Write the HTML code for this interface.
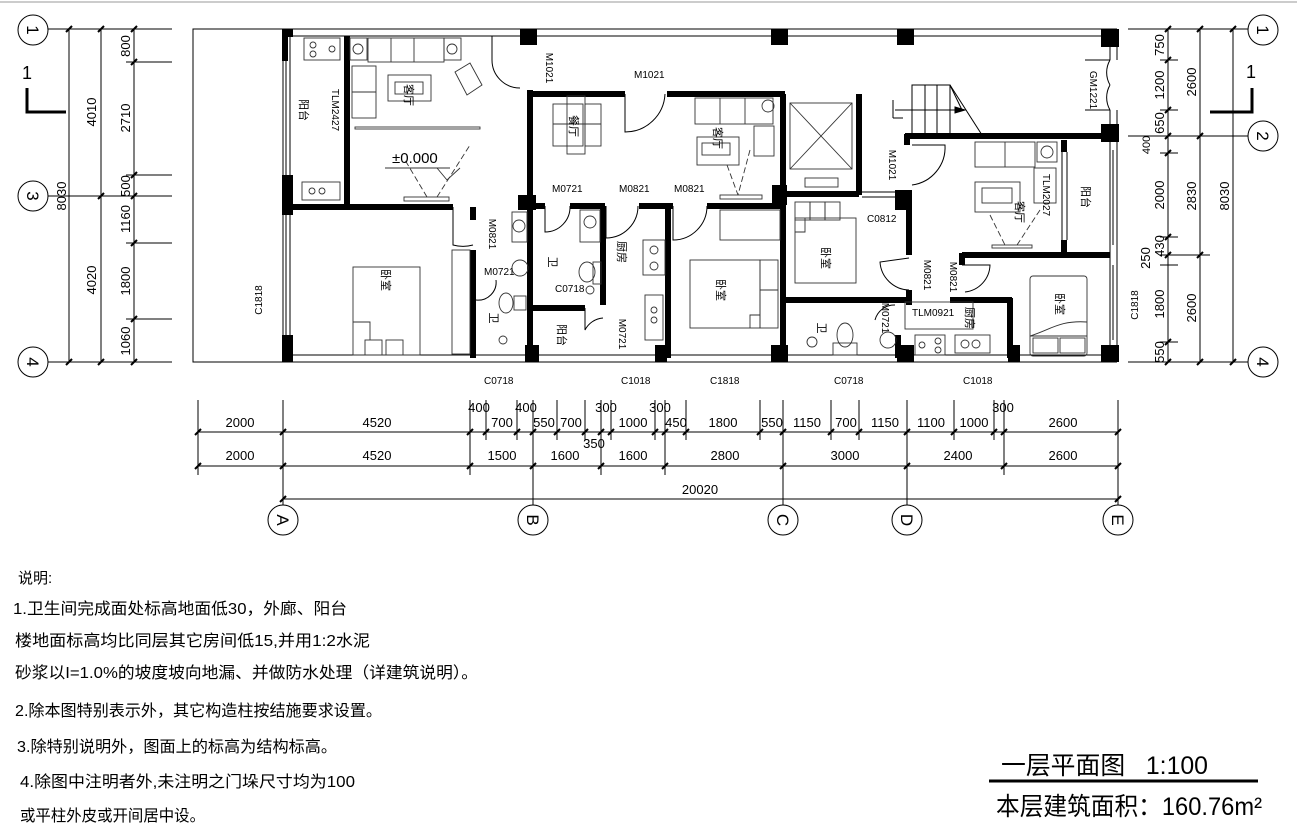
<!DOCTYPE html>
<html><head><meta charset="utf-8">
<style>
html,body{margin:0;padding:0;background:#fff;}
svg{display:block;}
text{font-family:"Liberation Sans","Noto Sans CJK SC",sans-serif;fill:#000;}
.cn{font-family:"Liberation Sans","Noto Sans CJK SC",sans-serif;}
.w{stroke:#000;stroke-width:6;fill:none;}
.t{stroke:#000;stroke-width:1;fill:none;}
.f{stroke:#333;stroke-width:0.9;fill:none;}
.d{font-size:13px;}
.s{font-size:10px;}
</style></head><body>
<svg width="1297" height="837" viewBox="0 0 1297 837" xmlns="http://www.w3.org/2000/svg">
<rect width="1297" height="837" fill="#fff"/>
<line x1="0" y1="2" x2="1297" y2="2" stroke="#ccc" stroke-width="2"/>

<!-- LEFT VERTICAL DIMENSIONS -->
<g class="t">
<line x1="69" y1="29" x2="69" y2="363"/><line x1="101" y1="29" x2="101" y2="363"/><line x1="134" y1="29" x2="134" y2="363"/>
<line x1="48" y1="29" x2="172" y2="29"/><line x1="48" y1="196" x2="172" y2="196"/><line x1="48" y1="362" x2="172" y2="362"/>
<line x1="126" y1="62" x2="172" y2="62"/><line x1="126" y1="175" x2="172" y2="175"/><line x1="126" y1="243" x2="172" y2="243"/><line x1="126" y1="319" x2="172" y2="319"/>
<circle cx="33" cy="30" r="15"/><circle cx="33" cy="196" r="15"/><circle cx="33" cy="362" r="15"/>
</g>
<g stroke="#000" stroke-width="2">
<line x1="66" y1="32" x2="72" y2="26"/><line x1="98" y1="32" x2="104" y2="26"/><line x1="131" y1="32" x2="137" y2="26"/>
<line x1="98" y1="199" x2="104" y2="193"/><line x1="131" y1="199" x2="137" y2="193"/>
<line x1="66" y1="365" x2="72" y2="359"/><line x1="98" y1="365" x2="104" y2="359"/><line x1="131" y1="365" x2="137" y2="359"/>
<line x1="131" y1="65" x2="137" y2="59"/><line x1="131" y1="178" x2="137" y2="172"/><line x1="131" y1="246" x2="137" y2="240"/><line x1="131" y1="322" x2="137" y2="316"/>
</g>
<g class="d">
<text transform="translate(33,30) rotate(90)" text-anchor="middle" dy="6" font-size="17">1</text>
<text transform="translate(33,196) rotate(90)" text-anchor="middle" dy="6" font-size="17">3</text>
<text transform="translate(33,362) rotate(90)" text-anchor="middle" dy="6" font-size="17">4</text>
<text transform="translate(96,112) rotate(-90)" text-anchor="middle">4010</text>
<text transform="translate(66,196) rotate(-90)" text-anchor="middle">8030</text>
<text transform="translate(96,280) rotate(-90)" text-anchor="middle">4020</text>
<text transform="translate(130,46) rotate(-90)" text-anchor="middle">800</text>
<text transform="translate(130,118) rotate(-90)" text-anchor="middle">2710</text>
<text transform="translate(130,186) rotate(-90)" text-anchor="middle">500</text>
<text transform="translate(130,219) rotate(-90)" text-anchor="middle">1160</text>
<text transform="translate(130,281) rotate(-90)" text-anchor="middle">1800</text>
<text transform="translate(130,341) rotate(-90)" text-anchor="middle">1060</text>
</g>
<text x="22" y="79" font-size="18">1</text>
<polyline points="27,88 27,112 66,112" stroke="#000" stroke-width="3" fill="none"/>

<!-- RIGHT VERTICAL DIMENSIONS -->
<g class="t">
<line x1="1168" y1="29" x2="1168" y2="363"/><line x1="1200" y1="29" x2="1200" y2="363"/><line x1="1233" y1="29" x2="1233" y2="363"/>
<line x1="1128" y1="29" x2="1248" y2="29"/><line x1="1128" y1="136" x2="1248" y2="136"/><line x1="1128" y1="362" x2="1248" y2="362"/>
<line x1="1160" y1="60" x2="1178" y2="60"/><line x1="1160" y1="110" x2="1178" y2="110"/><line x1="1160" y1="153" x2="1178" y2="153"/>
<line x1="1160" y1="237" x2="1178" y2="237"/><line x1="1160" y1="255" x2="1210" y2="255"/><line x1="1160" y1="265" x2="1178" y2="265"/><line x1="1160" y1="342" x2="1178" y2="342"/>
<circle cx="1263" cy="30" r="15"/><circle cx="1263" cy="136" r="15"/><circle cx="1263" cy="362" r="15"/>
</g>
<g stroke="#000" stroke-width="2">
<line x1="1165" y1="32" x2="1171" y2="26"/><line x1="1197" y1="32" x2="1203" y2="26"/><line x1="1230" y1="32" x2="1236" y2="26"/>
<line x1="1165" y1="139" x2="1171" y2="133"/><line x1="1197" y1="139" x2="1203" y2="133"/>
<line x1="1165" y1="365" x2="1171" y2="359"/><line x1="1197" y1="365" x2="1203" y2="359"/><line x1="1230" y1="365" x2="1236" y2="359"/>
<line x1="1165" y1="63" x2="1171" y2="57"/><line x1="1165" y1="113" x2="1171" y2="107"/><line x1="1165" y1="156" x2="1171" y2="150"/><line x1="1165" y1="240" x2="1171" y2="234"/><line x1="1165" y1="258" x2="1171" y2="252"/><line x1="1197" y1="258" x2="1203" y2="252"/><line x1="1165" y1="345" x2="1171" y2="339"/>
</g>
<g class="d">
<text transform="translate(1263,30) rotate(90)" text-anchor="middle" dy="6" font-size="17">1</text>
<text transform="translate(1263,136) rotate(90)" text-anchor="middle" dy="6" font-size="17">2</text>
<text transform="translate(1263,362) rotate(90)" text-anchor="middle" dy="6" font-size="17">4</text>
<text transform="translate(1164,45) rotate(-90)" text-anchor="middle">750</text>
<text transform="translate(1164,85) rotate(-90)" text-anchor="middle">1200</text>
<text transform="translate(1164,123) rotate(-90)" text-anchor="middle">650</text>
<text transform="translate(1150,145) rotate(-90)" text-anchor="middle" font-size="11">400</text>
<text transform="translate(1164,195) rotate(-90)" text-anchor="middle">2000</text>
<text transform="translate(1164,246) rotate(-90)" text-anchor="middle">430</text>
<text transform="translate(1150,258) rotate(-90)" text-anchor="middle">250</text>
<text transform="translate(1164,304) rotate(-90)" text-anchor="middle">1800</text>
<text transform="translate(1164,352) rotate(-90)" text-anchor="middle">550</text>
<text transform="translate(1196,82) rotate(-90)" text-anchor="middle">2600</text>
<text transform="translate(1196,196) rotate(-90)" text-anchor="middle">2830</text>
<text transform="translate(1196,308) rotate(-90)" text-anchor="middle">2600</text>
<text transform="translate(1229,196) rotate(-90)" text-anchor="middle">8030</text>
<text transform="translate(1138,305) rotate(-90)" text-anchor="middle" class="s">C1818</text>
</g>
<text x="1246" y="78" font-size="18">1</text>
<polyline points="1252,88 1252,112 1210,112" stroke="#000" stroke-width="3" fill="none"/>

<!-- PORCH -->
<rect x="193" y="29" width="90" height="333" class="t"/>

<!-- OUTER WALLS -->
<g class="t">
<line x1="283" y1="29" x2="1117" y2="29"/><line x1="283" y1="36" x2="1117" y2="36"/>
<line x1="283" y1="355" x2="1117" y2="355"/><line x1="283" y1="362" x2="1117" y2="362"/>
<line x1="283" y1="29" x2="283" y2="362"/><line x1="290" y1="29" x2="290" y2="362"/>
<line x1="1110" y1="29" x2="1110" y2="362"/><line x1="1117" y1="29" x2="1117" y2="362"/>
<line x1="286" y1="60" x2="286" y2="175"/><line x1="286" y1="215" x2="286" y2="340"/>
<line x1="1113" y1="150" x2="1113" y2="245"/><line x1="1113" y1="265" x2="1113" y2="340"/>
</g>
<g fill="#000">
<rect x="282" y="29" width="11" height="8"/><rect x="282" y="29" width="6" height="32"/>
<rect x="282" y="175" width="11" height="40"/><rect x="282" y="335" width="11" height="27"/><rect x="282" y="355" width="11" height="7"/>
<rect x="520" y="29" width="17" height="16"/><rect x="771" y="29" width="17" height="16"/><rect x="897" y="29" width="17" height="16"/><rect x="1101" y="29" width="18" height="18"/>
<rect x="1101" y="124" width="18" height="18"/><rect x="1101" y="345" width="18" height="17"/>
<rect x="518" y="195" width="18" height="15"/><rect x="525" y="345" width="14" height="17"/><rect x="655" y="345" width="12" height="17"/>
<rect x="771" y="345" width="17" height="17"/><rect x="895" y="190" width="17" height="20"/><rect x="897" y="345" width="17" height="17"/>
<rect x="772" y="185" width="15" height="20"/><rect x="1008" y="345" width="12" height="17"/>
</g>
<rect x="1109" y="60" width="10" height="50" fill="#fff"/>
<path d="M1110,60 A25,25 0 0 0 1110,85 M1110,110 A25,25 0 0 1 1110,85" class="t"/>
<path d="M1110,60 L1085,60 M1110,110 L1085,110" class="t"/>

<!-- INTERIOR THICK WALLS -->
<g class="w">
<line x1="347" y1="36" x2="347" y2="205"/>
<line x1="283" y1="207" x2="453" y2="207"/>
<line x1="473" y1="207" x2="473" y2="220"/><line x1="473" y1="250" x2="473" y2="358"/>
<line x1="530" y1="90" x2="530" y2="358"/>
<line x1="533" y1="94" x2="625" y2="94"/><line x1="667" y1="94" x2="785" y2="94"/>
<line x1="533" y1="206" x2="545" y2="206"/><line x1="570" y1="206" x2="605" y2="206"/><line x1="639" y1="206" x2="673" y2="206"/><line x1="707" y1="206" x2="784" y2="206"/>
<line x1="603" y1="206" x2="603" y2="305"/><line x1="668" y1="206" x2="668" y2="358"/>
<line x1="533" y1="308" x2="585" y2="308"/>
<line x1="783" y1="94" x2="783" y2="358"/>
<line x1="859" y1="94" x2="859" y2="195"/><line x1="783" y1="194" x2="859" y2="194"/>
<line x1="783" y1="300" x2="912" y2="300"/>
<line x1="909" y1="192" x2="909" y2="255"/><line x1="909" y1="290" x2="909" y2="305"/>
<line x1="905" y1="136" x2="1110" y2="136"/><line x1="907" y1="134" x2="907" y2="145"/>
<line x1="1064" y1="140" x2="1064" y2="152"/><line x1="1064" y1="240" x2="1064" y2="255"/>
<line x1="962" y1="255" x2="1110" y2="255"/><line x1="962" y1="253" x2="962" y2="265"/>
<line x1="950" y1="300" x2="1012" y2="300"/>
<line x1="1010" y1="298" x2="1010" y2="358"/>
<line x1="898" y1="335" x2="898" y2="358"/>
</g>
<g class="t">
<line x1="862" y1="192" x2="895" y2="192"/><line x1="862" y1="197" x2="895" y2="197"/>
<line x1="1062" y1="152" x2="1062" y2="240"/><line x1="1067" y1="152" x2="1067" y2="240"/>
<line x1="345" y1="50" x2="345" y2="195"/>
</g>

<!-- DOORS -->
<g class="t">
<path d="M492,36 L492,60 A28,28 0 0 0 520,88"/>
<path d="M625,94 L625,132 A40,40 0 0 0 665,94"/>
<path d="M453,207 L453,245 A38,38 0 0 0 473,245"/>
<path d="M545,206 L545,232 A25,25 0 0 0 570,206"/>
<path d="M606,206 L606,238 A32,32 0 0 0 638,206"/>
<path d="M673,206 L673,240 A34,34 0 0 0 707,206"/>
<path d="M912,145 L945,145 A38,38 0 0 1 912,185"/>
<path d="M909,258 L880,262 A30,30 0 0 0 909,290"/>
<path d="M962,265 L990,265 A28,28 0 0 1 965,292"/>
<path d="M585,308 L585,330 A22,22 0 0 1 603,318"/>
<path d="M496,280 A18,18 0 0 1 476,300"/>
<path d="M895,305 A20,20 0 0 0 875,320"/>
</g>

<!-- STAIRS -->
<g class="t">
<rect x="912" y="85" width="38" height="50"/>
<line x1="925" y1="85" x2="925" y2="135"/><line x1="937" y1="85" x2="937" y2="135"/><line x1="950" y1="85" x2="962" y2="110"/>
<line x1="950" y1="85" x2="982" y2="135"/>
<line x1="895" y1="110" x2="965" y2="110"/>
<polygon points="955,107 965,110 955,113" fill="#000"/>
<line x1="893" y1="100" x2="893" y2="118"/><line x1="893" y1="118" x2="903" y2="118"/>
</g>

<!-- ELEVATOR -->
<g class="f">
<rect x="790" y="103" width="62" height="66"/><line x1="790" y1="103" x2="852" y2="169"/><line x1="852" y1="103" x2="790" y2="169"/>
<rect x="805" y="178" width="33" height="9"/>
</g>

<!-- FURNITURE -->
<g class="f">
<rect x="304" y="38" width="36" height="22"/><circle cx="313" cy="45" r="3"/><circle cx="313" cy="54" r="3"/><circle cx="332" cy="49" r="3"/>
<rect x="302" y="182" width="38" height="18"/><circle cx="312" cy="191" r="3"/><circle cx="322" cy="191" r="3"/>
<rect x="350" y="38" width="17" height="22"/><circle cx="358" cy="49" r="5"/>
<rect x="444" y="38" width="17" height="22"/><circle cx="452" cy="49" r="5"/>
<rect x="368" y="38" width="76" height="24"/><line x1="391" y1="38" x2="391" y2="62"/><line x1="414" y1="38" x2="414" y2="62"/>
<rect x="352" y="66" width="24" height="52"/><line x1="352" y1="92" x2="376" y2="92"/>
<rect x="355" y="127" width="125" height="2"/>
<rect x="388" y="75" width="43" height="26"/><rect x="395" y="82" width="28" height="12"/>
<path d="M455,72 L470,63 L482,85 L467,95 Z"/>
<rect x="404" y="197" width="45" height="4"/>
<line x1="437" y1="197" x2="470" y2="145" stroke-dasharray="6,3"/><line x1="427" y1="197" x2="405" y2="160" stroke-dasharray="6,3"/>
<line x1="385" y1="168" x2="450" y2="168"/><polyline points="437,168 447,180 460,168"/>
<rect x="353" y="267" width="67" height="88"/><rect x="365" y="340" width="17" height="15"/><rect x="386" y="340" width="17" height="15"/>
<polyline points="353,322 370,322 370,340"/>
<rect x="452" y="250" width="18" height="104"/>
<rect x="512" y="212" width="15" height="30"/><circle cx="519" cy="226" r="6"/>
<circle cx="520" cy="268" r="8"/>
<ellipse cx="506" cy="303" rx="7" ry="10"/><rect x="514" y="296" width="12" height="14"/>
<circle cx="503" cy="340" r="4"/>
<rect x="553" y="104" width="30" height="42"/><rect x="567" y="96" width="18" height="58"/>
<line x1="553" y1="124" x2="601" y2="124"/><rect x="585" y="104" width="16" height="42"/>
<rect x="695" y="98" width="78" height="26"/><line x1="720" y1="98" x2="720" y2="124"/><line x1="745" y1="98" x2="745" y2="124"/>
<circle cx="768" cy="106" r="6"/><rect x="754" y="126" width="20" height="30"/>
<rect x="697" y="137" width="42" height="28"/><rect x="702" y="143" width="28" height="12"/>
<line x1="727" y1="165" x2="738" y2="195" stroke-dasharray="6,3"/><line x1="750" y1="150" x2="738" y2="195" stroke-dasharray="6,3"/>
<rect x="720" y="195" width="42" height="4"/>
<rect x="580" y="210" width="20" height="32"/><circle cx="590" cy="222" r="6"/>
<ellipse cx="587" cy="272" rx="8" ry="10"/><rect x="593" y="262" width="8" height="22"/><circle cx="590" cy="290" r="4"/>
<rect x="643" y="240" width="22" height="35"/><circle cx="654" cy="250" r="4"/><circle cx="654" cy="266" r="4"/>
<rect x="645" y="295" width="18" height="45"/><circle cx="654" cy="310" r="3"/><circle cx="654" cy="320" r="3"/>
<rect x="690" y="260" width="70" height="68"/><rect x="760" y="260" width="18" height="68"/><line x1="760" y1="290" x2="778" y2="290"/>
<rect x="720" y="210" width="60" height="30"/>
<polyline points="750,328 750,315 760,315"/>
<rect x="795" y="218" width="61" height="65"/><rect x="795" y="202" width="15" height="18"/><rect x="810" y="202" width="15" height="18"/><rect x="825" y="202" width="15" height="18"/>
<polyline points="795,232 805,232 805,218"/>
<circle cx="812" cy="342" r="5"/><ellipse cx="845" cy="335" rx="8" ry="12"/><rect x="833" y="343" width="24" height="12"/>
<circle cx="888" cy="340" r="8"/>
<rect x="905" y="302" width="68" height="27"/>
<rect x="915" y="335" width="30" height="20"/><circle cx="922" cy="345" r="3"/><circle cx="938" cy="341" r="3"/><circle cx="938" cy="350" r="3"/>
<rect x="955" y="335" width="35" height="18"/><circle cx="965" cy="344" r="4"/><circle cx="976" cy="344" r="4"/>
<rect x="975" y="142" width="60" height="25"/><line x1="1005" y1="142" x2="1005" y2="167"/>
<rect x="1037" y="142" width="20" height="20"/><circle cx="1047" cy="152" r="6"/>
<rect x="1034" y="168" width="22" height="35"/>
<rect x="975" y="182" width="45" height="30"/><rect x="982" y="188" width="30" height="15"/>
<line x1="990" y1="215" x2="1005" y2="245" stroke-dasharray="6,3"/><line x1="1040" y1="210" x2="1017" y2="245" stroke-dasharray="6,3"/>
<rect x="992" y="245" width="40" height="3"/>
<rect x="1030" y="276" width="57" height="80" rx="3"/><line x1="1030" y1="336" x2="1087" y2="336"/>
<path d="M1030,336 C1050,330 1060,320 1087,322"/>
<rect x="1033" y="338" width="25" height="15"/><rect x="1060" y="338" width="25" height="15"/>
</g>

<!-- ROOM LABELS -->
<g class="cn" font-size="11">
<text transform="translate(300,110) rotate(90)" text-anchor="middle">阳台</text>
<text transform="translate(405,95) rotate(90)" text-anchor="middle">客厅</text>
<text transform="translate(382,280) rotate(90)" text-anchor="middle">卧室</text>
<text transform="translate(490,318) rotate(90)" text-anchor="middle">卫</text>
<text transform="translate(570,126) rotate(90)" text-anchor="middle">餐厅</text>
<text transform="translate(714,138) rotate(90)" text-anchor="middle">客厅</text>
<text transform="translate(549,262) rotate(90)" text-anchor="middle">卫</text>
<text transform="translate(618,252) rotate(90)" text-anchor="middle">厨房</text>
<text transform="translate(717,290) rotate(90)" text-anchor="middle">卧室</text>
<text transform="translate(558,335) rotate(90)" text-anchor="middle">阳台</text>
<text transform="translate(822,258) rotate(90)" text-anchor="middle">卧室</text>
<text transform="translate(1016,212) rotate(90)" text-anchor="middle">客厅</text>
<text transform="translate(1082,197) rotate(90)" text-anchor="middle">阳台</text>
<text transform="translate(1056,304) rotate(90)" text-anchor="middle">卧室</text>
<text transform="translate(818,328) rotate(90)" text-anchor="middle">卫</text>
<text transform="translate(966,318) rotate(90)" text-anchor="middle">厨房</text>
</g>

<!-- DOOR/WINDOW LABELS -->
<g class="s">
<text transform="translate(332,110) rotate(90)" text-anchor="middle">TLM2427</text>
<text x="392" y="163" font-size="15">±0.000</text>
<text transform="translate(546,68) rotate(90)" text-anchor="middle">M1021</text>
<text x="634" y="78">M1021</text>
<text x="552" y="192">M0721</text><text x="619" y="192">M0821</text><text x="674" y="192">M0821</text>
<text transform="translate(489,234) rotate(90)" text-anchor="middle">M0821</text>
<text x="484" y="275">M0721</text>
<text x="555" y="292">C0718</text>
<text transform="translate(619,334) rotate(90)" text-anchor="middle">M0721</text>
<text transform="translate(262,300) rotate(-90)" text-anchor="middle">C1818</text>
<text x="867" y="222">C0812</text>
<text transform="translate(889,165) rotate(90)" text-anchor="middle">M1021</text>
<text transform="translate(1090,90) rotate(90)" text-anchor="middle">GM1221</text>
<text transform="translate(1043,195) rotate(90)" text-anchor="middle">TLM2027</text>
<text transform="translate(924,275) rotate(90)" text-anchor="middle">M0821</text>
<text transform="translate(950,277) rotate(90)" text-anchor="middle">M0821</text>
<text transform="translate(882,318) rotate(90)" text-anchor="middle">M0721</text>
<text x="912" y="316">TLM0921</text>
<text x="484" y="384">C0718</text><text x="621" y="384">C1018</text><text x="710" y="384">C1818</text><text x="834" y="384">C0718</text><text x="963" y="384">C1018</text>
</g>

<!-- BOTTOM DIMENSIONS -->
<g class="t">
<line x1="197" y1="432" x2="1118" y2="432"/><line x1="197" y1="466" x2="1118" y2="466"/><line x1="283" y1="499" x2="1118" y2="499"/>
<line x1="198" y1="400" x2="198" y2="475"/><line x1="283" y1="400" x2="283" y2="505"/>
<line x1="470" y1="400" x2="470" y2="475"/><line x1="486" y1="400" x2="486" y2="440"/><line x1="517" y1="400" x2="517" y2="440"/><line x1="533" y1="400" x2="533" y2="505"/>
<line x1="557" y1="400" x2="557" y2="440"/><line x1="585" y1="400" x2="585" y2="440"/><line x1="601" y1="400" x2="601" y2="475"/><line x1="611" y1="400" x2="611" y2="440"/>
<line x1="655" y1="400" x2="655" y2="440"/><line x1="665" y1="400" x2="665" y2="475"/><line x1="686" y1="400" x2="686" y2="440"/>
<line x1="760" y1="400" x2="760" y2="440"/><line x1="783" y1="400" x2="783" y2="505"/><line x1="831" y1="400" x2="831" y2="440"/><line x1="859" y1="400" x2="859" y2="440"/>
<line x1="907" y1="400" x2="907" y2="505"/><line x1="954" y1="400" x2="954" y2="440"/><line x1="994" y1="400" x2="994" y2="440"/><line x1="1004" y1="400" x2="1004" y2="475"/><line x1="1118" y1="400" x2="1118" y2="505"/>
<circle cx="283" cy="520" r="15"/><circle cx="533" cy="520" r="15"/><circle cx="783" cy="520" r="15"/><circle cx="907" cy="520" r="15"/><circle cx="1118" cy="520" r="15"/>
</g>
<g stroke="#000" stroke-width="2">
<line x1="195" y1="435" x2="201" y2="429"/><line x1="280" y1="435" x2="286" y2="429"/><line x1="467" y1="435" x2="473" y2="429"/><line x1="483" y1="435" x2="489" y2="429"/><line x1="514" y1="435" x2="520" y2="429"/><line x1="530" y1="435" x2="536" y2="429"/><line x1="554" y1="435" x2="560" y2="429"/><line x1="582" y1="435" x2="588" y2="429"/><line x1="598" y1="435" x2="604" y2="429"/><line x1="608" y1="435" x2="614" y2="429"/><line x1="652" y1="435" x2="658" y2="429"/><line x1="662" y1="435" x2="668" y2="429"/><line x1="683" y1="435" x2="689" y2="429"/><line x1="757" y1="435" x2="763" y2="429"/><line x1="780" y1="435" x2="786" y2="429"/><line x1="828" y1="435" x2="834" y2="429"/><line x1="856" y1="435" x2="862" y2="429"/><line x1="904" y1="435" x2="910" y2="429"/><line x1="951" y1="435" x2="957" y2="429"/><line x1="991" y1="435" x2="997" y2="429"/><line x1="1001" y1="435" x2="1007" y2="429"/><line x1="1115" y1="435" x2="1121" y2="429"/>
<line x1="195" y1="469" x2="201" y2="463"/><line x1="280" y1="469" x2="286" y2="463"/><line x1="467" y1="469" x2="473" y2="463"/><line x1="530" y1="469" x2="536" y2="463"/><line x1="598" y1="469" x2="604" y2="463"/><line x1="662" y1="469" x2="668" y2="463"/><line x1="780" y1="469" x2="786" y2="463"/><line x1="904" y1="469" x2="910" y2="463"/><line x1="1001" y1="469" x2="1007" y2="463"/><line x1="1115" y1="469" x2="1121" y2="463"/>
<line x1="280" y1="502" x2="286" y2="496"/><line x1="1115" y1="502" x2="1121" y2="496"/>
</g>
<g class="d" text-anchor="middle">
<text x="240" y="427">2000</text><text x="377" y="427">4520</text><text x="479" y="412">400</text><text x="502" y="427">700</text><text x="526" y="412">400</text>
<text x="544" y="427">550</text><text x="571" y="427">700</text><text x="606" y="412">300</text><text x="633" y="427">1000</text><text x="660" y="412">300</text>
<text x="676" y="427">450</text><text x="723" y="427">1800</text><text x="772" y="427">550</text><text x="807" y="427">1150</text><text x="846" y="427">700</text>
<text x="885" y="427">1150</text><text x="931" y="427">1100</text><text x="974" y="427">1000</text><text x="1003" y="412">300</text><text x="1063" y="427">2600</text>
<text x="240" y="460">2000</text><text x="377" y="460">4520</text><text x="502" y="460">1500</text><text x="565" y="460">1600</text><text x="594" y="448">350</text>
<text x="633" y="460">1600</text><text x="725" y="460">2800</text><text x="845" y="460">3000</text><text x="958" y="460">2400</text><text x="1063" y="460">2600</text>
<text x="700" y="494">20020</text>
</g>
<g font-size="17" text-anchor="middle">
<text transform="translate(283,520) rotate(90)" dy="6">A</text>
<text transform="translate(533,520) rotate(90)" dy="6">B</text>
<text transform="translate(783,520) rotate(90)" dy="6">C</text>
<text transform="translate(907,520) rotate(90)" dy="6">D</text>
<text transform="translate(1118,520) rotate(90)" dy="6">E</text>
</g>

<!-- NOTES -->
<g class="cn" font-size="16">
<text x="18" y="583" font-size="15">说明:</text>
<text x="13" y="614" textLength="334" lengthAdjust="spacingAndGlyphs">1.卫生间完成面处标高地面低30，外廊、阳台</text>
<text x="15" y="646" textLength="355" lengthAdjust="spacingAndGlyphs">楼地面标高均比同层其它房间低15,并用1:2水泥</text>
<text x="15" y="678" textLength="463" lengthAdjust="spacingAndGlyphs">砂浆以I=1.0%的坡度坡向地漏、并做防水处理（详建筑说明）。</text>
<text x="15" y="716" textLength="367" lengthAdjust="spacingAndGlyphs">2.除本图特别表示外，其它构造柱按结施要求设置。</text>
<text x="17" y="752" textLength="320" lengthAdjust="spacingAndGlyphs">3.除特别说明外，图面上的标高为结构标高。</text>
<text x="20" y="787" textLength="335" lengthAdjust="spacingAndGlyphs">4.除图中注明者外,未注明之门垛尺寸均为100</text>
<text x="20" y="821" textLength="185" lengthAdjust="spacingAndGlyphs">或平柱外皮或开间居中设。</text>
</g>

<!-- TITLE -->
<text x="1001" y="774" font-size="25" class="cn" textLength="207" lengthAdjust="spacingAndGlyphs">一层平面图&#160;&#160;&#160;1:100</text>
<line x1="989" y1="781" x2="1258" y2="781" stroke="#000" stroke-width="3"/>
<text x="996" y="815" font-size="25" class="cn" textLength="266" lengthAdjust="spacingAndGlyphs">本层建筑面积：160.76m²</text>
</svg>
</body></html>
